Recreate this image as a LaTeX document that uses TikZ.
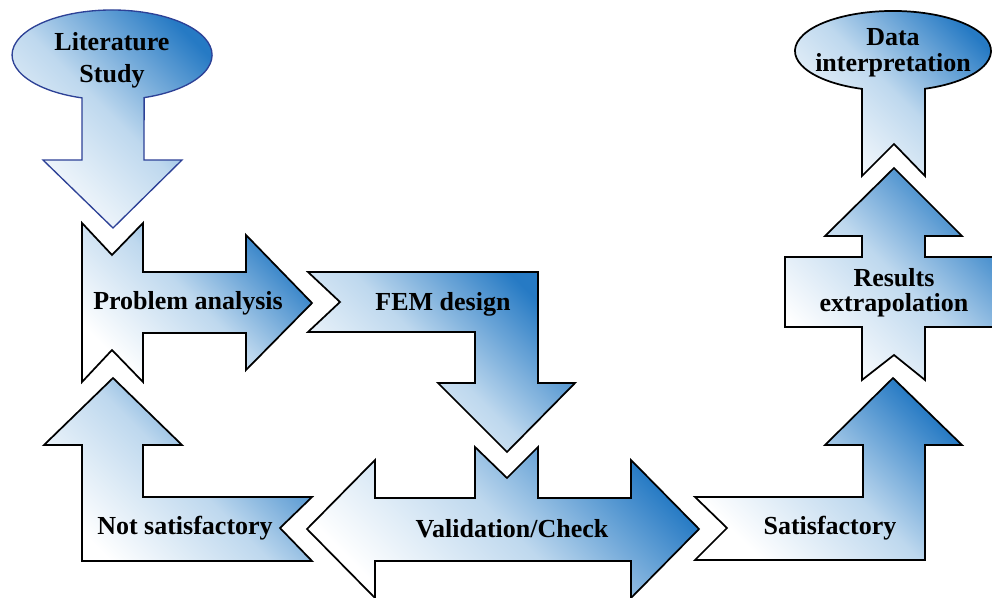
\documentclass[tikz,border=0pt]{standalone}
\usepackage{fontspec}
\setmainfont{Liberation Serif}
\definecolor{dblue}{RGB}{38,122,196}
\definecolor{mblue}{RGB}{190,216,238}
\definecolor{oblue}{RGB}{45,65,150}
\begin{document}
\begin{tikzpicture}[x=0.75pt,y=-0.75pt,
  shp/.style={draw=black, line width=1.3pt, line join=miter, miter limit=10, left color=dblue, right color=white, middle color=mblue, shading angle=-45},
  lbl/.style={anchor=base, inner sep=0pt, font=\fontsize{19.5}{22}\selectfont\bfseries}]
\useasboundingbox (0,0) rectangle (992,597);
\clip (0,0) rectangle (992,597);
% Literature Study
\path[shp, draw=oblue, line width=1pt] (82,97.9) arc[start angle=107.5, end angle=431.3, x radius=100, y radius=45] -- (144,160) -- (182,160) -- (113,228) -- (43,160) -- (82,160) -- cycle;
% Problem analysis
\path[shp] (82,223) -- (112,255) -- (143,223) -- (143,272) -- (246,272) -- (246,235) -- (312,303) -- (246,370) -- (246,333) -- (143,333) -- (143,382) -- (112,350) -- (82,382) -- cycle;
% FEM design
\path[shp] (308,272) -- (538,272) -- (538,383) -- (575,383) -- (507,452) -- (438,383) -- (475,383) -- (475,332) -- (308,332) -- (340,302) -- cycle;
% Not satisfactory
\path[shp] (113,378) -- (182,445) -- (143,445) -- (143,497) -- (312,497) -- (280,528) -- (312,561) -- (82,561) -- (82,445) -- (44,445) -- cycle;
% Validation/Check
\path[shp] (307,529) -- (375,460) -- (375,498) -- (475,498) -- (475,447) -- (507,478) -- (538,447) -- (538,498) -- (631,498) -- (631,460) -- (699,529) -- (631,598) -- (631,561) -- (375,561) -- (375,598) -- cycle;
% Satisfactory
\path[shp] (695,497) -- (863,497) -- (863,445) -- (825,445) -- (893,378) -- (962,445) -- (925,445) -- (925,560) -- (695,560) -- (727,528) -- cycle;
% Results extrapolation
\path[shp] (894,168) -- (962,236) -- (925,236) -- (925,257) -- (1003,257) -- (1003,327) -- (925,327) -- (925,380) -- (894,355) -- (862,380) -- (862,327) -- (785,327) -- (785,257) -- (862,257) -- (862,236) -- (825,236) -- cycle;
% Data interpretation
\path[shp] (862,88.9) arc[start angle=108.44, end angle=430.94, x radius=98, y radius=40] -- (925,176) -- (894,144) -- (862,176) -- cycle;
% labels
\node[lbl] (lit1) at (112,50) {Literature};
\node[lbl] (lit2) at (112,82) {Study};
\node[lbl] (pa) at (188,309) {Problem analysis};
\node[lbl] (fem) at (443,310) {FEM design};
\node[lbl] (ns) at (185,534) {Not satisfactory};
\node[lbl] (vc) at (512,537) {Validation/Check};
\node[lbl] (sat) at (830,534) {Satisfactory};
\node[lbl] (res1) at (894,286) {Results};
\node[lbl] (res2) at (894,311) {extrapolation};
\node[lbl] (dat1) at (893,45) {Data};
\node[lbl] (dat2) at (893,71) {interpretation};
\end{tikzpicture}
\end{document}
